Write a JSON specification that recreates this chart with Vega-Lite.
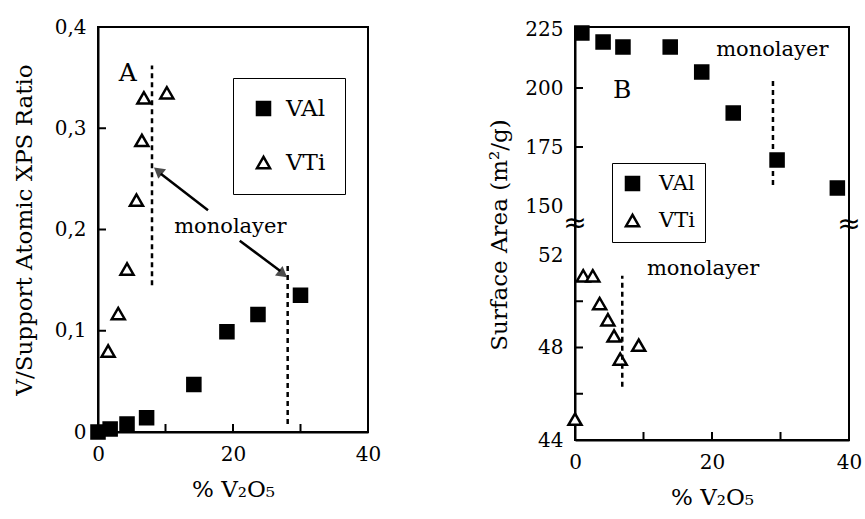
{
  "$schema": "https://vega.github.io/schema/vega-lite/v6.json",
  "padding": {"left": 12, "top": 16, "right": 5, "bottom": 5},
  "background": "white",
  "datasets": {
    "leftPts": [
      {"pct": 0, "ratio": 0.0, "series": "VAl"},
      {"pct": 1.8, "ratio": 0.003, "series": "VAl"},
      {"pct": 4.3, "ratio": 0.008, "series": "VAl"},
      {"pct": 7.2, "ratio": 0.014, "series": "VAl"},
      {"pct": 14.2, "ratio": 0.047, "series": "VAl"},
      {"pct": 19.1, "ratio": 0.099, "series": "VAl"},
      {"pct": 23.7, "ratio": 0.116, "series": "VAl"},
      {"pct": 30.0, "ratio": 0.135, "series": "VAl"},
      {"pct": 1.5, "ratio": 0.080, "series": "VTi"},
      {"pct": 3.0, "ratio": 0.117, "series": "VTi"},
      {"pct": 4.3, "ratio": 0.161, "series": "VTi"},
      {"pct": 5.7, "ratio": 0.229, "series": "VTi"},
      {"pct": 6.5, "ratio": 0.288, "series": "VTi"},
      {"pct": 6.8, "ratio": 0.330, "series": "VTi"},
      {"pct": 10.2, "ratio": 0.335, "series": "VTi"}
    ],
    "leftLines": [
      {"x": 8.0, "y": 0.145, "y2": 0.362},
      {"x": 28.1, "y": 0.008, "y2": 0.166}
    ],
    "leftArrows": [
      {"x": 16.3, "y": 0.219, "x2": 9.3, "y2": 0.255},
      {"x": 21.0, "y": 0.189, "x2": 27.0, "y2": 0.159}
    ],
    "rightPts": [
      {"pct": 1.0, "area": 223.3, "series": "VAl"},
      {"pct": 4.1, "area": 219.5, "series": "VAl"},
      {"pct": 7.0, "area": 217.4, "series": "VAl"},
      {"pct": 13.9, "area": 217.4, "series": "VAl"},
      {"pct": 18.5, "area": 206.8, "series": "VAl"},
      {"pct": 23.1, "area": 189.4, "series": "VAl"},
      {"pct": 29.5, "area": 169.5, "series": "VAl"},
      {"pct": 38.3, "area": 157.6, "series": "VAl"},
      {"pct": 0.0, "area": 44.9, "series": "VTi"},
      {"pct": 1.2, "area": 51.1, "series": "VTi"},
      {"pct": 2.6, "area": 51.1, "series": "VTi"},
      {"pct": 3.6, "area": 49.9, "series": "VTi"},
      {"pct": 4.8, "area": 49.2, "series": "VTi"},
      {"pct": 5.7, "area": 48.5, "series": "VTi"},
      {"pct": 6.6, "area": 47.5, "series": "VTi"},
      {"pct": 9.3, "area": 48.1, "series": "VTi"}
    ],
    "rightLines": [
      {"x": 28.9, "y": 158.9, "y2": 203.4},
      {"x": 6.9, "y": 46.3, "y2": 51.1}
    ],
    "rightBreaks": [
      {"x": 0, "y": 114},
      {"x": 40, "y": 112}
    ]
  },
  "hconcat": [
    {
      "width": 270,
      "height": 405,
      "resolve": {"axis": {"x": "independent", "y": "independent"}},
      "layer": [
        {
          "data": {"name": "leftPts"},
          "mark": {"type": "point", "filled": true, "stroke": "black", "strokeWidth": 2.5, "opacity": 1},
          "encoding": {
            "x": {
              "field": "pct", "type": "quantitative",
              "scale": {"domain": [0, 40], "nice": false},
              "axis": {"orient": "bottom", "values": [0, 20, 40], "tickSize": 0, "title": "% V₂O₅", "labelFont": "DejaVu Serif", "titleFont": "DejaVu Serif"}
            },
            "y": {
              "field": "ratio", "type": "quantitative",
              "scale": {"domain": [0, 0.4], "nice": false},
              "axis": {"orient": "left", "values": [0, 0.1, 0.2, 0.3, 0.4], "tickSize": 0, "labelExpr": "datum.value == 0 ? '0' : replace(format(datum.value, '.1f'), '.', ',')", "title": "V/Support Atomic XPS Ratio", "titlePadding": 18, "labelFont": "DejaVu Serif", "titleFont": "DejaVu Serif"}
            },
            "shape": {
              "field": "series", "type": "nominal",
              "scale": {"domain": ["VAl", "VTi"], "range": ["square", "triangle-up"]},
              "legend": {"title": null, "orient": "none", "legendX": 135, "legendY": 51, "strokeColor": "black", "padding": 19, "rowPadding": 30, "labelFont": "DejaVu Serif", "labelFontSize": 23, "labelOffset": 11, "symbolStrokeWidth": 2.5, "symbolStrokeColor": "black"}
            },
            "fill": {
              "field": "series", "type": "nominal",
              "scale": {"domain": ["VAl", "VTi"], "range": ["black", "white"]}
            },
            "size": {
              "field": "series", "type": "nominal",
              "scale": {"domain": ["VAl", "VTi"], "range": [170, 170]}
            }
          }
        },
        {
          "data": {"values": [{"v": 10}, {"v": 20}, {"v": 30}]},
          "mark": {"type": "tick", "orient": "vertical", "size": 8, "thickness": 2, "color": "black", "opacity": 1, "yOffset": -4},
          "encoding": {
            "x": {"field": "v", "type": "quantitative", "axis": null},
            "y": {"datum": 0, "type": "quantitative", "axis": null}
          }
        },
        {
          "data": {"values": [{"v": 0.1}, {"v": 0.2}, {"v": 0.3}]},
          "mark": {"type": "tick", "orient": "horizontal", "size": 8, "thickness": 2, "color": "black", "opacity": 1, "xOffset": 4},
          "encoding": {
            "y": {"field": "v", "type": "quantitative", "axis": null},
            "x": {"datum": 0, "type": "quantitative", "axis": null}
          }
        },
        {
          "data": {"name": "leftLines"},
          "mark": {"type": "rule", "strokeDash": [5, 4], "strokeWidth": 2.5, "color": "black"},
          "encoding": {
            "x": {"field": "x", "type": "quantitative", "axis": null},
            "y": {"field": "y", "type": "quantitative", "axis": null},
            "y2": {"field": "y2"}
          }
        },
        {
          "data": {"name": "leftArrows"},
          "mark": {"type": "rule", "strokeWidth": 2.5, "color": "black"},
          "encoding": {
            "x": {"field": "x", "type": "quantitative", "axis": null},
            "y": {"field": "y", "type": "quantitative", "axis": null},
            "x2": {"field": "x2"},
            "y2": {"field": "y2"}
          }
        },
        {
          "data": {"values": [{"x": 8.9, "y": 0.258}]},
          "mark": {"type": "point", "shape": "triangle-up", "filled": true, "color": "black", "size": 150, "angle": 309},
          "encoding": {
            "x": {"field": "x", "type": "quantitative", "axis": null},
            "y": {"field": "y", "type": "quantitative", "axis": null}
          }
        },
        {
          "data": {"values": [{"x": 27.4, "y": 0.156}]},
          "mark": {"type": "point", "shape": "triangle-up", "filled": true, "color": "black", "size": 150, "angle": 128},
          "encoding": {
            "x": {"field": "x", "type": "quantitative", "axis": null},
            "y": {"field": "y", "type": "quantitative", "axis": null}
          }
        },
        {
          "data": {"values": [{"x": 4.4, "y": 0.355, "t": "A"}]},
          "mark": {"type": "text", "fontSize": 25, "color": "black", "font": "DejaVu Serif"},
          "encoding": {
            "x": {"field": "x", "type": "quantitative", "axis": null},
            "y": {"field": "y", "type": "quantitative", "axis": null},
            "text": {"field": "t"}
          }
        },
        {
          "data": {"values": [{"x": 19.6, "y": 0.202, "t": "monolayer"}]},
          "mark": {"type": "text", "fontSize": 21, "color": "black", "font": "DejaVu Serif"},
          "encoding": {
            "x": {"field": "x", "type": "quantitative", "axis": null},
            "y": {"field": "y", "type": "quantitative", "axis": null},
            "text": {"field": "t"}
          }
        }
      ]
    },
    {
      "width": 274,
      "height": 413,
      "resolve": {"axis": {"x": "independent", "y": "independent"}},
      "layer": [
        {
          "data": {"name": "rightPts"},
          "mark": {"type": "point", "filled": true, "stroke": "black", "strokeWidth": 2.5, "opacity": 1},
          "encoding": {
            "x": {
              "field": "pct", "type": "quantitative",
              "scale": {"domain": [0, 40], "nice": false},
              "axis": {"orient": "bottom", "values": [0, 20, 40], "tickSize": 0, "title": "% V₂O₅", "labelFont": "DejaVu Serif", "titleFont": "DejaVu Serif"}
            },
            "y": {
              "field": "area", "type": "quantitative",
              "scale": {"domain": [44, 52, 150, 225], "range": [413, 228, 179, 2], "nice": false, "zero": false},
              "axis": {"orient": "left", "values": [44, 48, 52, 150, 175, 200, 225], "tickSize": 0, "title": "Surface Area (m²/g)", "titlePadding": 13, "labelFont": "DejaVu Serif", "titleFont": "DejaVu Serif"}
            },
            "shape": {
              "field": "series", "type": "nominal",
              "scale": {"domain": ["VAl", "VTi"], "range": ["square", "triangle-up"]},
              "legend": {"title": null, "orient": "none", "legendX": 37, "legendY": 136, "strokeColor": "black", "padding": 10, "rowPadding": 13, "labelFont": "DejaVu Serif", "labelFontSize": 21, "labelOffset": 16, "symbolStrokeWidth": 2.5, "symbolStrokeColor": "black"}
            },
            "fill": {
              "field": "series", "type": "nominal",
              "scale": {"domain": ["VAl", "VTi"], "range": ["black", "white"]}
            },
            "size": {
              "field": "series", "type": "nominal",
              "scale": {"domain": ["VAl", "VTi"], "range": [170, 170]}
            }
          }
        },
        {
          "data": {"values": [{"v": 10}, {"v": 20}, {"v": 30}]},
          "mark": {"type": "tick", "orient": "vertical", "size": 8, "thickness": 2, "color": "black", "opacity": 1, "yOffset": -4},
          "encoding": {
            "x": {"field": "v", "type": "quantitative", "axis": null},
            "y": {"datum": 44, "type": "quantitative", "axis": null}
          }
        },
        {
          "data": {"values": [{"v": 46}, {"v": 48}, {"v": 50}, {"v": 175}, {"v": 200}]},
          "mark": {"type": "tick", "orient": "horizontal", "size": 8, "thickness": 2, "color": "black", "opacity": 1, "xOffset": 4},
          "encoding": {
            "y": {"field": "v", "type": "quantitative", "axis": null},
            "x": {"datum": 0, "type": "quantitative", "axis": null}
          }
        },
        {
          "data": {"name": "rightLines"},
          "mark": {"type": "rule", "strokeDash": [5, 4], "strokeWidth": 2.5, "color": "black"},
          "encoding": {
            "x": {"field": "x", "type": "quantitative", "axis": null},
            "y": {"field": "y", "type": "quantitative", "axis": null},
            "y2": {"field": "y2"}
          }
        },
        {
          "data": {"name": "rightBreaks"},
          "mark": {"type": "text", "text": "≈", "fontSize": 28, "color": "black", "font": "DejaVu Sans"},
          "encoding": {
            "x": {"field": "x", "type": "quantitative", "axis": null},
            "y": {"field": "y", "type": "quantitative", "axis": null}
          }
        },
        {
          "data": {"values": [{"x": 6.9, "y": 199.2, "t": "B"}]},
          "mark": {"type": "text", "fontSize": 25, "color": "black", "font": "DejaVu Serif"},
          "encoding": {
            "x": {"field": "x", "type": "quantitative", "axis": null},
            "y": {"field": "y", "type": "quantitative", "axis": null},
            "text": {"field": "t"}
          }
        },
        {
          "data": {"values": [{"x": 28.8, "y": 216.1, "t": "monolayer"}, {"x": 18.7, "y": 51.4, "t": "monolayer"}]},
          "mark": {"type": "text", "fontSize": 21, "color": "black", "font": "DejaVu Serif"},
          "encoding": {
            "x": {"field": "x", "type": "quantitative", "axis": null},
            "y": {"field": "y", "type": "quantitative", "axis": null},
            "text": {"field": "t"}
          }
        }
      ]
    }
  ],
  "spacing": 105,
  "resolve": {
    "scale": {"shape": "independent", "fill": "independent", "size": "independent", "x": "independent", "y": "independent"},
    "legend": {"shape": "independent", "fill": "independent", "size": "independent"}
  },
  "config": {
    "font": "DejaVu Serif",
    "view": {"stroke": "black", "strokeWidth": 2},
    "axis": {
      "grid": false,
      "zindex": 1,
      "domainColor": "black",
      "domainWidth": 2,
      "tickColor": "black",
      "tickWidth": 2,
      "labelPadding": 12,
      "labelFont": "DejaVu Serif",
      "labelFontSize": 20,
      "labelColor": "black",
      "labelFlush": false,
      "labelOverlap": false,
      "titleFont": "DejaVu Serif",
      "titleFontSize": 23,
      "titleFontWeight": "normal",
      "titleColor": "black",
      "titlePadding": 14
    },
    "legend": {
      "labelFont": "DejaVu Serif",
      "labelColor": "black"
    }
  }
}
